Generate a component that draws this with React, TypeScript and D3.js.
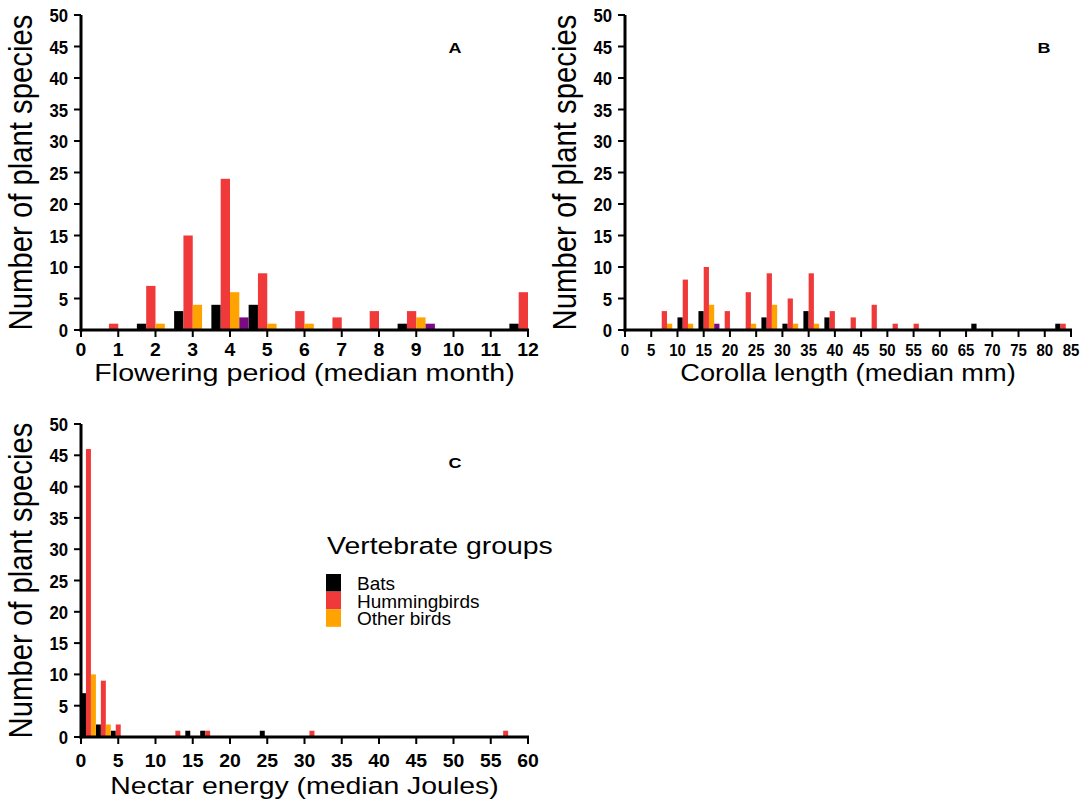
import React from 'react';
import * as d3 from 'd3';

// groups: bats, hummingbirds, other birds (+ an unlabelled purple group)
const groupNames = ['Bats', 'Hummingbirds', 'Other birds'];
const groupColors = ['#000000', '#f03a3a', '#ffa300', '#7b0a85'];

// A - flowering period (median month)
const monthsA = [1, 2, 3, 4, 5, 6, 7, 8, 9, 10, 11, 12];
const batsA = [0, 1, 3, 4, 4, 0, 0, 0, 1, 0, 0, 1];
const hummA = [1, 7, 15, 24, 9, 3, 2, 3, 3, 0, 0, 6];
const otherA = [0, 1, 4, 6, 1, 1, 0, 0, 2, 0, 0, 0];
const purpleA = [0, 0, 0, 2, 0, 0, 0, 0, 1, 0, 0, 0];
const ticksA = d3.range(0, 13, 1);

// B - corolla length (median mm), 4 mm bins
const binsB = [6, 10, 14, 18, 22, 26, 30, 34, 38, 42, 46, 50, 54, 58, 62, 66, 70, 74, 78, 82];
const batsB = [0, 2, 3, 0, 0, 2, 1, 3, 2, 0, 0, 0, 0, 0, 0, 1, 0, 0, 0, 1];
const hummB = [3, 8, 10, 3, 6, 9, 5, 9, 3, 2, 4, 1, 1, 0, 0, 0, 0, 0, 0, 1];
const otherB = [1, 1, 4, 0, 1, 4, 1, 1, 0, 0, 0, 0, 0, 0, 0, 0, 0, 0, 0, 0];
const purpleB = [0, 0, 1, 0, 0, 0, 0, 0, 0, 0, 0, 0, 0, 0, 0, 0, 0, 0, 0, 0];
const ticksB = d3.range(0, 86, 5);

// C - nectar energy (median Joules), 2 J bins
const binsC = [0, 2, 4, 12, 14, 16, 24, 30, 56];
const batsC = [7, 2, 1, 0, 1, 1, 1, 0, 0];
const hummC = [46, 9, 2, 1, 0, 1, 0, 1, 1];
const otherC = [10, 2, 0, 0, 0, 0, 0, 0, 0];
const ticksC = d3.range(0, 61, 5);

const yTicks = d3.range(0, 51, 5);
const FONT = 'Liberation Sans, Arial, Helvetica, sans-serif';

function SText({ x, y, sx = 1, rot = 0, anchor = 'middle', size, bold = false, children }: any) {
  const t = `translate(${x},${y}) scale(${sx},1)` + (rot ? ` rotate(${rot})` : '');
  return (
    <text transform={t} textAnchor={anchor} fontSize={size} fontWeight={bold ? 'bold' : 'normal'} fontFamily={FONT} fill="#000">
      {children}
    </text>
  );
}

function Panel(p: any) {
  const x = d3.scaleLinear().domain([0, p.xMax]).range([p.left, p.right]);
  const y = d3.scaleLinear().domain([0, 50]).range([p.bottom, p.top]);
  const bars: any[] = [];
  p.series.forEach((vals: number[], i: number) => {
    vals.forEach((v, j) => {
      if (!v) return;
      const x0 = p.barStart(p.bins[j], i);
      bars.push({ key: `${i}-${j}`, x: x(x0), w: x(x0 + p.barWidth) - x(x0), y: y(v), h: y(0) - y(v), c: groupColors[i] });
    });
  });
  const midY = (p.top + p.bottom) / 2;
  return (
    <g>
      {bars.map(b => (
        <rect key={b.key} x={b.x} y={b.y} width={b.w} height={b.h} fill={b.c} />
      ))}
      <line x1={p.left} x2={p.left} y1={y(50)} y2={y(0) + 1.5} stroke="#000" strokeWidth={3} />
      <line x1={p.left - 1.5} x2={x(p.xMax) + 1} y1={y(0)} y2={y(0)} stroke="#000" strokeWidth={3} />
      {yTicks.map(t => (
        <g key={'y' + t}>
          <line x1={p.left - 7} x2={p.left} y1={y(t)} y2={y(t)} stroke="#000" strokeWidth={2} />
          <SText x={p.left - 13} y={y(t) + 7} anchor="end" size={18} bold sx={0.93}>{t}</SText>
        </g>
      ))}
      {p.xTicks.map((t: number) => (
        <g key={'x' + t}>
          <line x1={x(t)} x2={x(t)} y1={y(0)} y2={y(0) + 7} stroke="#000" strokeWidth={2} />
          <SText x={x(t)} y={y(0) + p.tickDy} size={p.tickSize} bold sx={p.tickSx}>{t}</SText>
        </g>
      ))}
      <SText x={(p.left + p.right) / 2} y={p.titleY} size={24.5} sx={p.titleSx}>{p.xTitle}</SText>
      <SText x={p.left - 49} y={midY} rot={-90} size={29.3} sx={1.14}>Number of plant species</SText>
      <SText x={p.tagX} y={p.tagY} size={15} bold sx={1.2}>{p.tag}</SText>
    </g>
  );
}

export default function App() {
  return (
    <svg width={1085} height={802} style={{ position: 'absolute', left: 0, top: 0, background: '#fff' }}>
      <Panel
        left={81} right={528} top={15} bottom={330} xMax={12} xTicks={ticksA}
        bins={monthsA} series={[batsA, hummA, otherA, purpleA]}
        barStart={(m: number, i: number) => m - 0.5 + i * 0.25} barWidth={0.25}
        tickDy={25.5} tickSize={18.5} tickSx={1.05} titleY={381} titleSx={1.17}
        xTitle="Flowering period (median month)" tag="A" tagX={455} tagY={53}
      />
      <Panel
        left={625} right={1071} top={15} bottom={330} xMax={85} xTicks={ticksB}
        bins={binsB} series={[batsB, hummB, otherB, purpleB]}
        barStart={(b: number, i: number) => b + i} barWidth={1}
        tickDy={25.5} tickSize={17} tickSx={0.88} titleY={381} titleSx={1.11}
        xTitle="Corolla length (median mm)" tag="B" tagX={1044} tagY={53}
      />
      <Panel
        left={81} right={528} top={424} bottom={737} xMax={60} xTicks={ticksC}
        bins={binsC} series={[batsC, hummC, otherC]}
        barStart={(b: number, i: number) => b + (i * 2) / 3} barWidth={2 / 3}
        tickDy={29.5} tickSize={18.5} tickSx={1.05} titleY={794} titleSx={1.16}
        xTitle="Nectar energy (median Joules)" tag="C" tagX={455} tagY={468}
      />
      <g>
        <SText x={327} y={554} anchor="start" size={24.5} sx={1.16}>Vertebrate groups</SText>
        {groupNames.map((n, i) => (
          <g key={n}>
            <rect x={326} y={574 + i * 17.6} width={15} height={17.6} fill={groupColors[i]} />
            <SText x={357} y={590 + i * 17.5} anchor="start" size={19}>{n}</SText>
          </g>
        ))}
      </g>
    </svg>
  );
}
